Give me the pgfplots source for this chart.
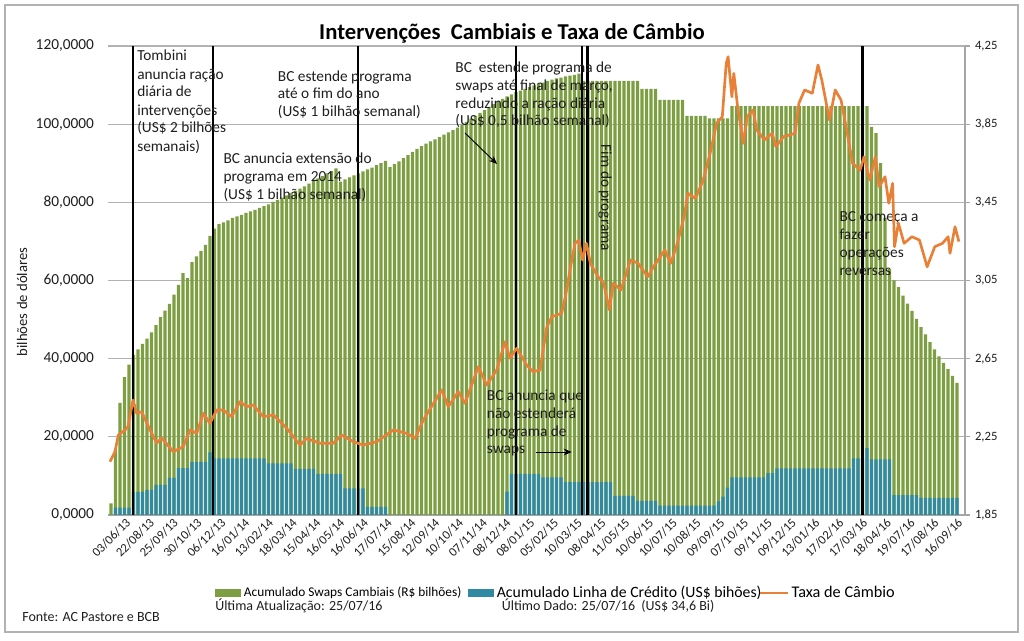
\documentclass[border=0pt]{standalone}
\usepackage{fontspec}
\setmainfont{Carlito}
\usepackage{pgfplots}
\pgfplotsset{compat=1.18}
\usepackage{pgfplotstable}
\usetikzlibrary{arrows.meta}
\definecolor{swgreen}{RGB}{125,158,66}
\definecolor{lcblue}{RGB}{49,138,162}
\definecolor{fxorange}{RGB}{232,128,56}
\definecolor{txt}{RGB}{30,30,30}

\pgfplotstableread{
x g b
3 3.0 0
7.5 17.0 1.9
12 28.7 1.9
16.5 35.3 1.9
21 38.5 1.9
25.5 41.0 5.9
30 42.4 5.9
34.5 43.8 5.9
39 45.1 6.4
43.5 46.7 6.4
48 48.6 7.7
52.5 50.6 7.7
57 52.3 7.7
61.5 54.0 9.5
66 56.4 9.5
70.5 58.9 12.0
75 61.9 12.0
79.5 60.6 12.0
84 64.7 13.6
88.5 66.2 13.6
93 67.6 13.6
97.5 69.1 13.6
102 71.4 16.0
106.5 73.3 14.5
111 74.4 14.5
115.5 74.9 14.5
120 75.4 14.5
124.5 76.0 14.5
129 76.4 14.5
133.5 76.8 14.5
138 77.3 14.5
142.5 77.7 14.5
147 78.1 14.5
151.5 78.6 14.5
156 79.0 14.5
160.5 79.5 13.2
165 80.1 13.2
169.5 80.6 13.2
174 81.2 13.2
178.5 81.8 13.2
183 82.4 13.2
187.5 82.9 11.8
192 83.5 11.8
196.5 84.1 11.8
201 84.8 11.8
205.5 85.4 11.8
210 86.1 10.5
214.5 86.7 10.5
219 87.4 10.5
223.5 88.0 10.5
228 88.7 10.5
232.5 85.3 10.5
237 85.9 6.8
241.5 86.4 6.8
246 86.9 6.8
250.5 87.4 6.8
255 87.9 6.8
259.5 88.4 2.1
264 88.9 2.1
268.5 89.5 2.1
273 90.0 2.1
277.5 90.6 2.1
282 89.0 0
286.5 89.8 0
291 90.5 0
295.5 91.3 0
300 92.1 0
304.5 92.9 0
309 93.7 0
313.5 94.4 0
318 95.0 0
322.5 95.6 0
327 96.1 0
331.5 96.7 0
336 97.3 0
340.5 97.9 0
345 98.5 0
349.5 99.1 0
354 99.8 0
358.5 100.6 0
363 101.4 0
367.5 102.1 0
372 102.9 0
376.5 103.6 0
381 104.4 0
385.5 105.1 0
390 105.9 0
394.5 106.5 0
399 107.1 6.0
403.5 107.6 10.5
408 108.2 10.5
412.5 108.6 10.5
417 109.0 10.5
421.5 109.5 10.5
426 109.9 10.5
430.5 110.3 10.5
435 110.6 9.6
439.5 111.1 9.6
444 111.4 9.6
448.5 111.7 9.6
453 111.9 9.6
457.5 112.2 8.4
462 112.4 8.4
466.5 112.6 8.4
471 112.9 8.4
475.5 111.1 8.4
480 111.1 8.4
484.5 111.1 8.4
489 111.1 8.4
493.5 111.1 8.4
498 111.1 8.4
502.5 111.1 8.4
507 111.1 4.9
511.5 111.1 4.9
516 111.1 4.9
520.5 111.1 4.9
525 111.1 4.9
529.5 111.1 3.6
534 109.0 3.6
538.5 109.0 3.6
543 109.0 3.6
547.5 109.0 3.6
552 106.2 2.4
556.5 106.2 2.4
561 106.2 2.4
565.5 106.2 2.4
570 106.2 2.4
574.5 106.2 2.4
579 102.1 2.4
583.5 102.1 2.4
588 102.1 2.4
592.5 102.1 2.4
597 102.1 2.4
601.5 101.5 2.4
606 101.5 2.4
610.5 101.5 3.5
615 101.5 4.7
619.5 101.5 7.0
624 104.6 9.6
628.5 104.6 9.6
633 104.6 9.6
637.5 104.6 9.6
642 104.6 9.6
646.5 104.6 9.6
651 104.6 9.6
655.5 104.6 9.6
660 104.6 10.7
664.5 104.6 10.7
669 104.6 11.9
673.5 104.6 11.9
678 104.6 11.9
682.5 104.6 11.9
687 104.6 11.9
691.5 104.6 11.9
696 104.6 11.9
700.5 104.6 11.9
705 104.6 11.9
709.5 104.6 11.9
714 104.6 11.9
718.5 104.6 11.9
723 104.6 11.9
727.5 104.6 11.9
732 104.6 11.9
736.5 104.6 11.9
741 104.6 11.9
745.5 104.6 14.5
750 104.6 14.5
754.5 104.6 14.5
759 104.6 17.1
763.5 99.3 14.2
768 97.7 14.2
772.5 90.0 14.2
777 76.0 14.2
781.5 63.0 14.2
786 60.0 5.1
790.5 58.3 5.1
795 56.1 5.1
799.5 54.1 5.1
804 52.2 5.1
808.5 50.2 5.1
813 48.1 4.4
817.5 46.2 4.4
822 44.2 4.4
826.5 42.4 4.4
831 40.6 4.4
835.5 38.9 4.4
840 37.3 4.4
844.5 35.6 4.4
849 33.8 4.4
}\swaps

\pgfplotstableread{
x r
2 2.123
7 2.174
10.3 2.259
17 2.285
20 2.302
25 2.438
28.7 2.370
33.7 2.378
42 2.285
48.7 2.218
53.7 2.244
65.3 2.174
75.3 2.200
82 2.285
88.7 2.268
95.3 2.370
102 2.319
108.7 2.387
115.3 2.387
123.7 2.353
132 2.430
138.7 2.404
145.3 2.413
155.3 2.353
165.3 2.362
178.7 2.294
192 2.208
198.7 2.242
212 2.217
225.3 2.217
233.7 2.259
245.3 2.225
255.3 2.208
268.7 2.225
285.3 2.285
298.7 2.268
307 2.242
315.3 2.336
333.7 2.490
340.3 2.404
350.3 2.481
357 2.421
370.3 2.609
378.7 2.515
388.7 2.592
397 2.737
402 2.652
408.7 2.703
418.7 2.617
425.3 2.583
432 2.592
438.7 2.810
444 2.865
453.6 2.882
457.4 2.967
463.2 3.138
467 3.240
470.8 3.257
474.6 3.155
478.5 3.240
482.3 3.138
490 3.069
495.7 3.036
501.4 2.899
505.3 3.036
512.9 3.001
522.5 3.155
530.1 3.138
539.7 3.069
545.4 3.120
556.9 3.206
562.7 3.138
568.4 3.223
576.1 3.376
579.9 3.496
587.5 3.470
595.2 3.564
602.9 3.717
608.6 3.854
614.3 3.888
618.2 4.161
620.1 4.195
623.9 3.990
625.8 4.110
629.6 3.939
635.4 3.752
639.2 3.888
645 3.922
648.8 3.820
656.4 3.769
664.1 3.803
667.9 3.735
675.6 3.786
687.1 3.803
690.9 3.957
696.6 4.025
704.3 4.008
710 4.153
713.8 4.076
721.5 3.871
727.2 4.025
733 3.974
738.7 3.820
744.5 3.650
752.1 3.615
756 3.683
761.7 3.564
767.4 3.683
771.2 3.530
777 3.581
780.8 3.445
784.6 3.547
786.5 3.223
790.4 3.343
796.1 3.240
803.8 3.274
811.4 3.257
817.2 3.155
819.1 3.120
826.8 3.223
834.4 3.240
840.1 3.274
842 3.189
847 3.325
850.9 3.249
}\fx

\tikzset{ann/.style={anchor=base west, inner sep=0pt, text=txt, font=\fontsize{11.5}{13.5}\selectfont}}

\begin{document}
\begin{tikzpicture}[x=0.75pt,y=0.75pt]
\useasboundingbox (0,0) rectangle (1024,641);
\draw[gray!60, line width=0.8pt] (5,9) rectangle (1018,636);
\node[font=\bfseries\fontsize{17}{20}\selectfont, anchor=base, inner sep=0pt] at (512,601.7) {Intervenções\ \ Cambiais e Taxa de Câmbio};
\node[rotate=90, font=\fontsize{11}{13}\selectfont, text=txt] at (22,339) {bilhões de dólares};

\begin{axis}[
  at={(81pt,94.5pt)}, anchor=south west, scale only axis,
  width=642.75pt, height=351.75pt,
  xmin=0, xmax=857, ymin=0, ymax=120,
  axis x line*=bottom, axis y line*=left,
  y axis line style={draw=none},
  x axis line style={draw=gray!70, line width=0.8pt, -},
  ytick={0,20,40,60,80,100,120},
  ymajorgrids, grid style={gray!60, line width=0.8pt},
  major tick length=0pt,
  /pgf/number format/assume math mode=true,
  yticklabel style={font=\fontsize{11.5}{13}\selectfont, text=txt, xshift=-7pt,
    /pgf/number format/.cd, fixed, fixed zerofill, precision=4, use comma, 1000 sep={}},
  xtick={17,40.8,64.5,88.3,112.1,135.9,159.6,183.4,207.2,230.9,254.7,278.5,302.2,326,349.8,373.6,397.3,421.1,444.9,468.6,492.4,516.2,539.9,563.7,587.5,611.3,635,658.8,682.6,706.3,730.1,753.9,777.6,801.4,825.2,849},
  xticklabels={03/06/13,22/08/13,25/09/13,30/10/13,06/12/13,16/01/14,13/02/14,18/03/14,15/04/14,16/05/14,16/06/14,17/07/14,15/08/14,12/09/14,10/10/14,07/11/14,08/12/14,08/01/15,05/02/15,10/03/15,08/04/15,11/05/15,10/06/15,10/07/15,10/08/15,09/09/15,07/10/15,09/11/15,09/12/15,13/01/16,17/02/16,17/03/16,18/04/16,19/07/16,17/08/16,16/09/16},
  xticklabel style={rotate=45, anchor=north east, inner sep=1pt, text=txt, font=\fontsize{9.5}{11}\selectfont},
  legend style={at={(0.1249,-0.1663)}, anchor=west, draw=none, fill=none, inner sep=0pt,
    /tikz/every even column/.append style={column sep=3pt}},
  legend columns=3, legend cell align=left,
]
\addplot[ybar, bar width=3.4, bar shift=0pt, fill=swgreen, draw=none,
  legend image code/.code={\fill[swgreen] (0pt,-3pt) rectangle (19.5pt,3pt);}]
  table[x=x,y=g]{\swaps};
\addlegendentry{\fontsize{10}{11}\selectfont Acumulado Swaps Cambiais (R\$ bilhões)}
\addplot[ybar, bar width=3.4, bar shift=0pt, fill=lcblue, draw=none,
  legend image code/.code={\fill[lcblue] (0pt,-3pt) rectangle (19.5pt,3pt);}]
  table[x=x,y=b]{\swaps};
\addlegendentry{\fontsize{11.8}{13}\selectfont Acumulado Linha de Crédito (US\$ bihões)\hspace*{-7pt}}
\addlegendimage{fxorange, line width=1.6pt, legend image code/.code={\draw[fxorange, line width=1.6pt] (0pt,0pt) -- (21pt,0pt);}}
\addlegendentry{\fontsize{12.2}{13}\selectfont Taxa de Câmbio}

\addplot[black, line width=1.8pt, forget plot] coordinates {(25,0) (25,120)};
\addplot[black, line width=1.8pt, forget plot] coordinates {(104.7,0) (104.7,120)};
\addplot[black, line width=1.8pt, forget plot] coordinates {(250,0) (250,120)};
\addplot[black, line width=1.8pt, forget plot] coordinates {(408,0) (408,120)};
\addplot[black, line width=1.8pt, forget plot] coordinates {(473.7,0) (473.7,120)};
\addplot[black, line width=1.8pt, forget plot] coordinates {(479.4,0) (479.4,120)};
\addplot[black, line width=1.8pt, forget plot] coordinates {(754.3,0) (754.3,120)};

\node[ann] at (axis cs:29,116.16) {Tombini};
\node[ann] at (axis cs:29,111.55) {anuncia ração};
\node[ann] at (axis cs:29,106.95) {diária de};
\node[ann] at (axis cs:29,102.34) {intervenções};
\node[ann] at (axis cs:29,97.74) {(US\$ 2 bilhões};
\node[ann] at (axis cs:29,93.13) {semanais)};

\node[ann] at (axis cs:115.3,89.99) {BC anuncia extensão do};
\node[ann] at (axis cs:115.3,85.28) {programa em 2014};
\node[ann] at (axis cs:115.3,80.78) {(US\$ 1 bilhão semanal)};

\node[ann] at (axis cs:169.7,111.04) {BC estende programa};
\node[ann] at (axis cs:169.7,106.44) {até o fim do ano};
\node[ann] at (axis cs:169.7,101.91) {(US\$ 1 bilhão semanal)};

\node[ann] at (axis cs:347.2,113.17) {BC\ \ estende programa de};
\node[ann] at (axis cs:347.2,108.56) {swaps até final de março,};
\node[ann] at (axis cs:347.2,104.06) {reduzindo a ração diária};
\node[ann] at (axis cs:347.2,99.53) {(US\$ 0,5 bilhão semanal)};
\draw[-{Stealth[length=6pt,width=5pt]}, line width=0.7pt] (axis cs:357,97.74) -- (axis cs:389,89.81);

\node[rotate=-90, inner sep=0pt, text=txt, font=\fontsize{11.5}{13.5}\selectfont] at (axis cs:497,81.1) {Fim do programa};

\node[ann] at (axis cs:378.7,29.24) {BC anuncia que};
\node[ann] at (axis cs:378.7,24.74) {não estenderá};
\node[ann] at (axis cs:378.7,20.21) {programa de};
\node[ann] at (axis cs:378.7,15.61) {swaps};
\draw[-{Stealth[length=6pt,width=5pt]}, line width=0.7pt] (axis cs:428,16.12) -- (axis cs:463.7,16.12);

\node[ann] at (axis cs:731.3,75.04) {BC começa a};
\node[ann] at (axis cs:731.3,70.54) {fazer};
\node[ann] at (axis cs:731.3,65.94) {operações};
\node[ann] at (axis cs:731.3,61.23) {reversas};
\end{axis}

\begin{axis}[
  at={(81pt,94.5pt)}, anchor=south west, scale only axis,
  width=642.75pt, height=351.75pt,
  xmin=0, xmax=857, ymin=1.85, ymax=4.25,
  axis y line*=right, axis x line=none,
  y axis line style={draw=gray!70, line width=0.8pt, -},
  ytick={1.85,2.25,2.65,3.05,3.45,3.85,4.25},
  ytick style={draw=gray!70, line width=0.8pt},
  major tick length=4pt, tick align=outside,
  /pgf/number format/assume math mode=true,
  yticklabel style={font=\fontsize{9.5}{11}\selectfont, text=txt, xshift=0pt,
    /pgf/number format/.cd, fixed, fixed zerofill, precision=2, use comma},
]
\addplot[fxorange, line width=2pt, no markers, line join=round] table[x=x,y=r]{\fx};
\end{axis}

\node[anchor=base west, inner sep=0pt, text=txt, font=\fontsize{10.5}{12}\selectfont] at (22,19) {Fonte: AC Pastore e BCB};
\node[anchor=base west, inner sep=0pt, text=txt, font=\fontsize{10.5}{12}\selectfont] at (215,30) {Última Atualização: 25/07/16};
\node[anchor=base west, inner sep=0pt, text=txt, font=\fontsize{10.5}{12}\selectfont] at (501.7,30) {Último Dado: 25/07/16\ \ (US\$ 34,6 Bi)};
\end{tikzpicture}
\end{document}
